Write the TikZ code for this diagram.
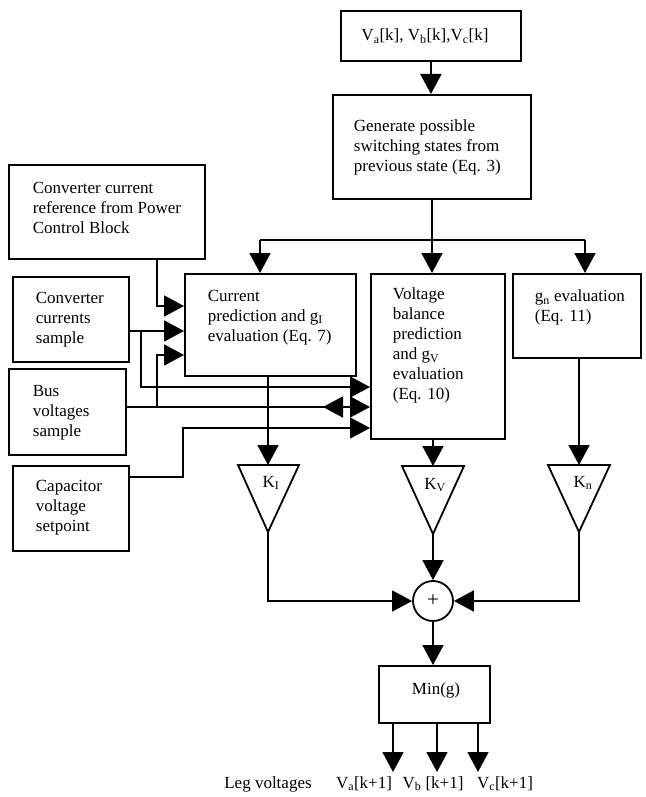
\documentclass[tikz,border=0pt]{standalone}
\usepackage{fontspec}
\setmainfont{Liberation Serif}
\usetikzlibrary{arrows.meta}
\begin{document}
\begin{tikzpicture}[x=1pt,y=-1pt,
  line width=1.8pt,
  box/.style={draw,line width=1.8pt,rectangle,inner sep=0pt,anchor=north west},
  txt/.style={anchor=north west,inner sep=0pt,align=left,font=\fontsize{17}{20}\selectfont},
  lbl/.style={inner sep=0pt,anchor=base,font=\fontsize{17}{20}\selectfont},
  arr/.style={-{Triangle[length=20pt,width=21pt]}},
]
\useasboundingbox (0,0) rectangle (645,797);

% boxes
\node[box,minimum width=180pt,minimum height=50pt] (top) at (340,10) {};
\node[box,minimum width=198pt,minimum height=104pt] (gen) at (332,94) {};
\node[box,minimum width=171pt,minimum height=102pt] (cur) at (184,273) {};
\node[box,minimum width=134pt,minimum height=165pt] (vol) at (370,273) {};
\node[box,minimum width=128pt,minimum height=84pt] (gn) at (512,273) {};
\node[box,minimum width=196pt,minimum height=94pt] (ref) at (8,164) {};
\node[box,minimum width=116pt,minimum height=85pt] (cs) at (12,276) {};
\node[box,minimum width=117pt,minimum height=86pt] (bus) at (8,368) {};
\node[box,minimum width=116pt,minimum height=85pt] (cap) at (12,465) {};
\node[box,minimum width=111pt,minimum height=57pt] (mn) at (378,665) {};

% texts
\node[lbl] (toptxt) at (425,41) {V\textsubscript{a}[k], V\textsubscript{b}[k],V\textsubscript{c}[k]};
\node[txt] (gentxt) at (353,119) {Generate possible\\switching states from\\previous state (Eq. 3)};
\node[txt] (curtxt) at (207,289) {Current\\prediction and g\textsubscript{I}\\evaluation (Eq. 7)};
\node[txt] (voltxt) at (392,287) {Voltage\\balance\\prediction\\and g\textsubscript{V}\\evaluation\\(Eq. 10)};
\node[txt] (gntxt) at (534,289) {g\textsubscript{n} evaluation\\(Eq. 11)};
\node[txt] (reftxt) at (32,181) {Converter current\\reference from Power\\Control Block};
\node[txt] (cstxt) at (35,291) {Converter\\currents\\sample};
\node[txt] (bustxt) at (32,384) {Bus\\voltages\\sample};
\node[txt] (captxt) at (35,479) {Capacitor\\voltage\\setpoint};
\node[lbl] (mntxt) at (436,694) {Min(g)};

% top flow
\draw[arr] (top.south) -- (top.south |- gen.north);
\coordinate (split) at (432,240);
\coordinate (bl) at (260,240);
\coordinate (br) at (585,240);
\draw (split |- gen.south) -- (split);
\draw (bl) -- (br);
\draw[arr] (bl) -- (bl |- cur.north);
\draw[arr] (split) -- (split |- vol.north);
\draw[arr] (br) -- (br |- gn.north);

% left inputs
\coordinate (r1) at (157,306);
\draw[arr] (r1 |- ref.south) -- (r1) -- (r1 -| cur.west);
\coordinate (c1) at (141,331);
\coordinate (c2) at (141,387);
\draw[arr] (cs.east |- c1) -- (c1 -| cur.west);
\draw[arr] (c1) -- (c2) -- (c2 -| vol.west);
\coordinate (b1) at (157,407);
\coordinate (b2) at (157,355);
\draw[arr] (bus.east |- b1) -- (b1 -| vol.west);
\draw[arr] (b1) -- (b2) -- (b2 -| cur.west);
\coordinate (rv1) at (346,407);
\coordinate (rv2) at (323,407);
\draw[arr] (rv1) -- (rv2);
\coordinate (p1) at (183,477);
\coordinate (p2) at (183,428);
\draw[arr] (cap.east |- p1) -- (p1) -- (p2) -- (p2 -| vol.west);

% gain triangles
\coordinate (kit) at (268,465);
\coordinate (kia) at (268,532);
\coordinate (kvt) at (433,466);
\coordinate (kva) at (433,534);
\coordinate (knt) at (579,465);
\coordinate (kna) at (579,532);
\draw[line join=miter] (238,465) -- (299,465) -- (kia) -- cycle;
\draw[line join=miter] (402,466) -- (464,466) -- (kva) -- cycle;
\draw[line join=miter] (548,465) -- (610,465) -- (kna) -- cycle;
\node[lbl] (kilbl) at (271,487) {K\textsubscript{I}};
\node[lbl] (kvlbl) at (435,489) {K\textsubscript{V}};
\node[lbl] (knlbl) at (583,487) {K\textsubscript{n}};

\draw[arr] (kit |- cur.south) -- (kit);
\draw[arr] (kvt |- vol.south) -- (kvt);
\draw[arr] (knt |- gn.south) -- (knt);

% sum
\node[draw,circle,minimum size=40pt,inner sep=0pt,line width=1.8pt,font=\fontsize{21}{24}\selectfont] (sum) at (433,601) {+};
\draw[arr] (kia) |- (sum.west);
\draw[arr] (kva) -- (sum.north);
\draw[arr] (kna) |- (sum.east);
\draw[arr] (sum.south) -- (sum.south |- mn.north);

% outputs
\coordinate (o1) at (393,772);
\coordinate (o2) at (437,772);
\coordinate (o3) at (478,772);
\draw[arr] (o1 |- mn.south) -- (o1);
\draw[arr] (o2 |- mn.south) -- (o2);
\draw[arr] (o3 |- mn.south) -- (o3);

\node[lbl] (leg) at (268,788) {Leg voltages};
\node[lbl] (va) at (364,788) {V\textsubscript{a}[k+1]};
\node[lbl] (vb) at (433,788) {V\textsubscript{b} [k+1]};
\node[lbl] (vc) at (505,788) {V\textsubscript{c}[k+1]};
\end{tikzpicture}
\end{document}
